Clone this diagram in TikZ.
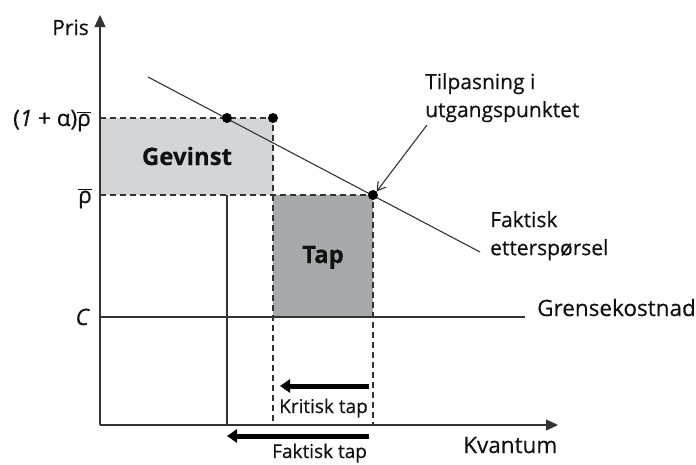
\documentclass[tikz,border=0pt]{standalone}
\usepackage{fontspec}
\setmainfont{Open Sans}[FakeBold=0.4]
\usetikzlibrary{arrows.meta}
\definecolor{axisgray}{HTML}{333333}
\definecolor{gainfill}{HTML}{D4D5D7}
\definecolor{lossfill}{HTML}{A7A8AB}
\definecolor{ink}{HTML}{111111}
\begin{document}
\begin{tikzpicture}[x=1pt,y=-1pt,
  axis/.style={line width=1.3pt, draw=axisgray},
  guide/.style={line width=1.1pt, draw=axisgray, dash pattern=on 6pt off 4pt},
  dot/.style={circle, fill=black, inner sep=0pt, minimum size=10pt},
  lbl/.style={font=\fontsize{21}{28}\selectfont, text=ink, inner sep=0pt},
  big/.style={font=\fontsize{22.5}{28}\selectfont, text=ink, inner sep=0pt},
  small/.style={font=\fontsize{19}{23}\selectfont, text=ink, inner sep=0pt},
  area/.style={font=\fontsize{24}{30}\selectfont\bfseries, text=ink, inner sep=0pt},
  qtyarrow/.style={line width=5pt, draw=black, -{Triangle[length=10pt,width=13pt]}}]
\useasboundingbox (0,0) rectangle (696,464);

% shaded areas
\fill[gainfill] (100,118) rectangle (273,195);
\fill[lossfill] (273,195) rectangle (373,317);

% key points
\coordinate (O) at (100,425);
\coordinate (Ytop) at (100,15);
\coordinate (Xend) at (558,425);
\coordinate (Dstart) at (148,77);
\coordinate (Dend) at (480,252);
\coordinate (Cl) at (100,317);
\coordinate (Cr) at (525,317);
\coordinate (Hi) at (100,118);
\coordinate (Lo) at (100,195);
\coordinate (HiR) at (273,118);
\coordinate (HiB) at (273,425);
\coordinate (LoR) at (373,195);
\coordinate (LoB) at (373,425);
\coordinate (Qt) at (227,195);
\coordinate (Qb) at (227,425);

% guide lines
\draw[guide] (Hi) -- (HiR) -- (HiB);
\draw[guide] (Lo) -- (LoR) -- (LoB);
\draw[axis, line width=1.1pt] (Qt) -- (Qb);
\draw[axis, line width=1.1pt] (Cl) -- (Cr);

% demand curve
\draw[axis, line width=1.1pt] (Dstart) -- (Dend);

% axes
\draw[axis, -{Triangle[length=12pt,width=11pt]}] (O) -- (Ytop);
\draw[axis, -{Triangle[length=12pt,width=11pt]}] (O) -- (Xend);

% points
\node[dot] (p1) at (227,118) {};
\node[dot] (p2) at (273,118) {};
\node[dot] (p3) at (373,195) {};

% axis labels
\node[lbl, anchor=base east] (pris) at (89,35) {Pris};
\node[big, anchor=base west] (kv) at (463,453) {Kvantum};
\node[big, anchor=base east] (phi) at (91,126) {(\textit{1} + α)$\overline{\hbox{ρ}}$};
\node[big, anchor=base east] (plo) at (92,203) {$\overline{\hbox{ρ}}$};
\node[big, anchor=base east] (cc) at (89,325) {\itshape C};

% area labels
\node[area, anchor=base] (gev) at (187,165) {Gevinst};
\node[area, anchor=base] (tap) at (323,263) {Tap};

% annotations
\node[lbl, anchor=north west, align=left] (tilp) at (425,73) {Tilpasning i\\utgangspunktet};
\node[lbl, anchor=north west, align=left] (fakt) at (490,211) {Faktisk\\etterspørsel};
\node[big, anchor=base west] (gk) at (537,316) {Grensekostnad};
\draw[line width=1.1pt, draw=axisgray, -{Straight Barb[length=8pt,width=10pt]}] (427,125) -- (p3.north east);

% quantity shifts
\coordinate (k1) at (369,386);
\coordinate (k2) at (280,386);
\coordinate (f1) at (369,436);
\coordinate (f2) at (227,436);
\draw[qtyarrow] (k1) -- (k2);
\draw[qtyarrow] (f1) -- (f2);
\node[small, anchor=base west] (kt) at (279,413) {Kritisk tap};
\node[small, anchor=base west] (ft) at (272,458) {Faktisk tap};
\end{tikzpicture}
\end{document}
